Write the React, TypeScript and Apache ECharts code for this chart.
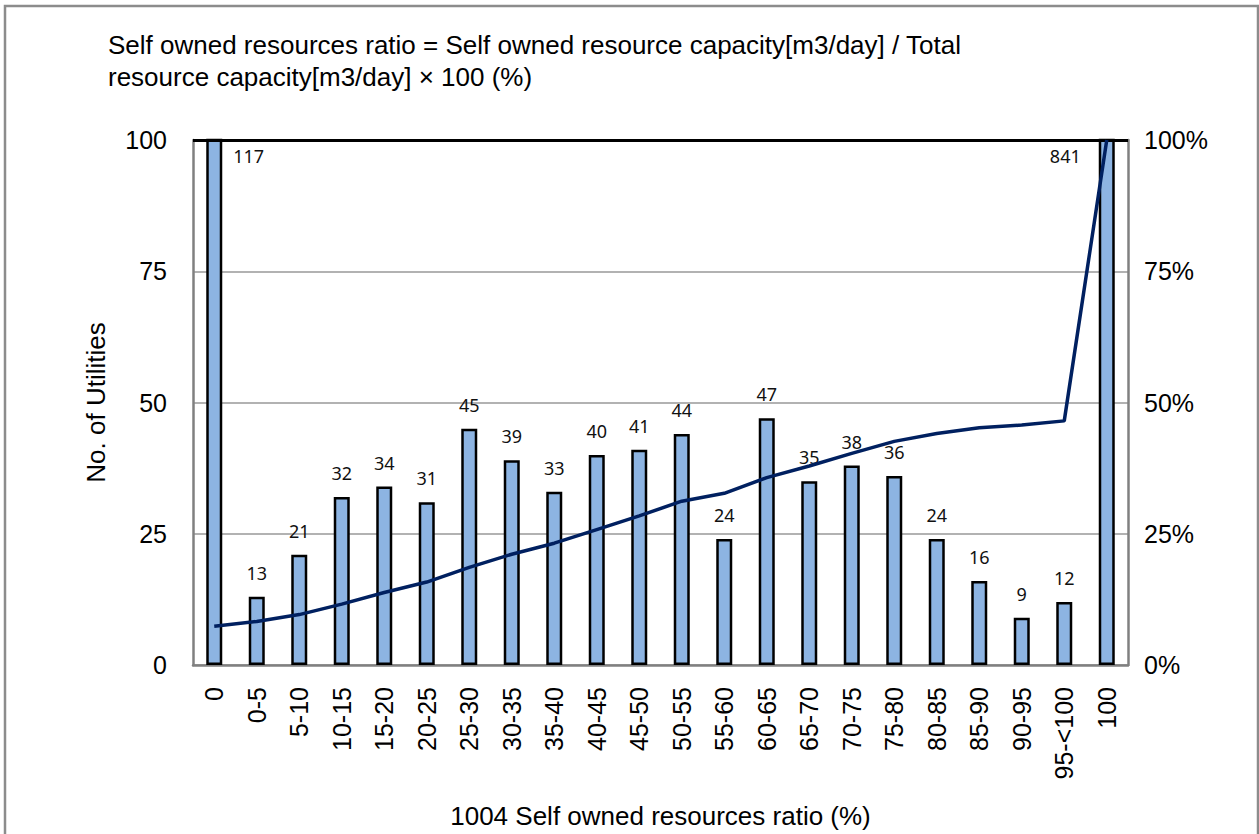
import React, { useEffect, useRef } from "react";
import * as echarts from "echarts";

const categories = [
  "0", "0-5", "5-10", "10-15", "15-20", "20-25", "25-30", "30-35", "35-40", "40-45", "45-50",
  "50-55", "55-60", "60-65", "65-70", "70-75", "75-80", "80-85", "85-90", "90-95", "95-<100", "100",
];
const utilities = [117, 13, 21, 32, 34, 31, 45, 39, 33, 40, 41, 44, 24, 47, 35, 38, 36, 24, 16, 9, 12, 841];
const cumulativePct = [7.4, 8.3, 9.6, 11.6, 13.8, 15.8, 18.6, 21.1, 23.2, 25.8, 28.4, 31.2, 32.7, 35.7, 37.9, 40.3, 42.6, 44.1, 45.2, 45.7, 46.5, 100];
const leftTicks = [0, 25, 50, 75, 100];

const titleText = "Self owned resources ratio = Self owned resource capacity[m3/day] / Total\nresource capacity[m3/day] \u00d7 100 (%)";

export default function App() {
  const ref = useRef<HTMLDivElement>(null);
  useEffect(() => {
    if (!ref.current) return;
    const chart = echarts.init(ref.current, null, { renderer: "svg" });
    const font = "'Liberation Sans', Arial, sans-serif";
    const lastIdx = utilities.length - 1;
    chart.setOption({
      animation: false,
      backgroundColor: "#fff",
      textStyle: { fontFamily: font },
      title: {
        text: titleText,
        left: 103,
        top: 24,
        textStyle: { fontSize: 26, fontWeight: "normal", color: "#000", lineHeight: 32, fontFamily: font },
      },
      graphic: [
        {
          type: "rect",
          shape: { x: 5, y: 6, width: 1253, height: 840 },
          style: { fill: "none", stroke: "#8c8c8c", lineWidth: 2.5 },
          silent: true,
        },
      ],
      grid: { left: 193, right: 131, top: 140, bottom: 168 },
      xAxis: {
        type: "category",
        data: categories,
        name: "1004 Self owned resources ratio (%)",
        nameLocation: "middle",
        nameGap: 138,
        nameTextStyle: { fontSize: 26, color: "#000", fontFamily: font },
        axisLine: { show: true, lineStyle: { color: "#808080", width: 2.5 } },
        axisTick: { show: false },
        axisLabel: { rotate: 90, fontSize: 25, color: "#000", margin: 22, interval: 0, fontFamily: font },
      },
      yAxis: [
        {
          type: "value",
          min: 0,
          max: 100,
          interval: 25,
          name: "No. of Utilities",
          nameLocation: "middle",
          nameGap: 84,
          nameRotate: 90,
          nameTextStyle: { fontSize: 26, color: "#000", fontFamily: font },
          axisLine: { show: true, lineStyle: { color: "#808080", width: 2.5 } },
          axisTick: { show: false },
          splitLine: { show: true, lineStyle: { color: "#999", width: 1.5 } },
          axisLabel: {
            fontSize: 25,
            color: "#000",
            margin: 26,
            fontFamily: font,
            formatter: (v: number) => (leftTicks.includes(v) ? String(v) : ""),
          },
        },
        {
          type: "value",
          min: 0,
          max: 100,
          interval: 25,
          position: "right",
          axisLine: { show: true, lineStyle: { color: "#808080", width: 2.5 } },
          axisTick: { show: false },
          splitLine: { show: false },
          axisLabel: { fontSize: 25, color: "#000", margin: 16, formatter: "{value}%", fontFamily: font },
        },
      ],
      series: [
        {
          type: "bar",
          yAxisIndex: 0,
          barWidth: 16,
          clip: true,
          itemStyle: { color: "#8DB4E2", borderColor: "#000", borderWidth: 2.5 },
          label: {
            show: true,
            position: "top",
            distance: 15,
            fontSize: 18,
            color: "#111",
            fontFamily: "'Noto Sans', sans-serif",
          },
          data: utilities.map((v, i) => {
            if (i === 0) {
              return { value: v, label: { position: [27, 8], align: "left" } };
            }
            if (i === lastIdx) {
              return { value: v, label: { position: [-18, 8], align: "right" } };
            }
            return v;
          }),
          markLine: {
            silent: true,
            symbol: "none",
            label: { show: false },
            lineStyle: { color: "#000", width: 3, type: "solid" },
            data: [{ yAxis: 100 }],
          },
        },
        {
          type: "line",
          yAxisIndex: 1,
          data: cumulativePct,
          symbol: "none",
          lineStyle: { color: "#002060", width: 3.5 },
          z: 5,
        },
      ],
    });
    return () => chart.dispose();
  }, []);
  return <div ref={ref} style={{ position: "fixed", left: 0, top: 0, width: 1259, height: 834 }} />;
}
